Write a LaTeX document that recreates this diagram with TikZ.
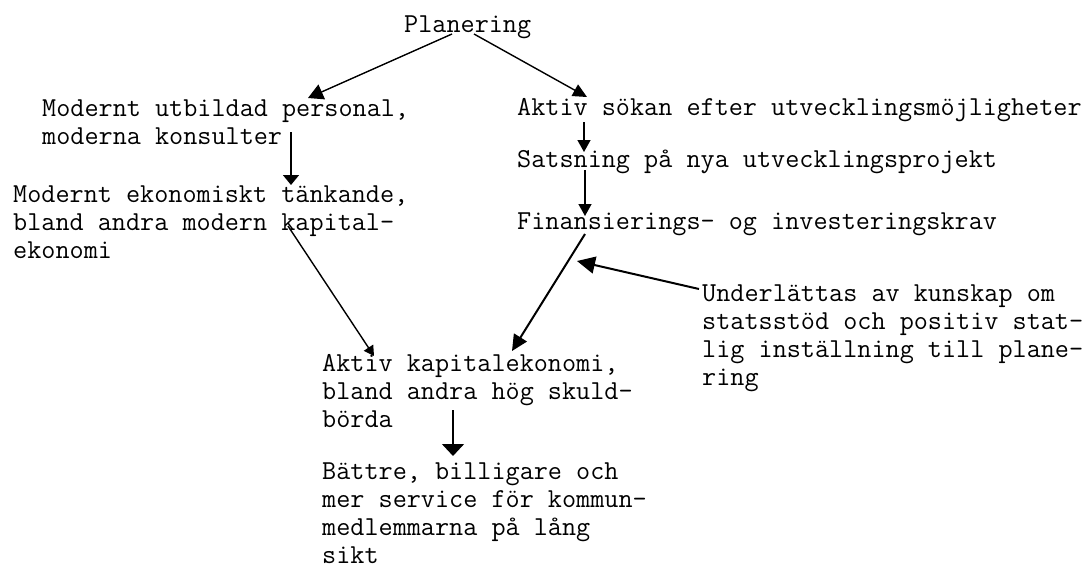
\documentclass[tikz,border=0pt]{standalone}
\usepackage{tikz}
\usetikzlibrary{arrows.meta, calc}

\begin{document}
\begin{tikzpicture}[x=1pt, y=-1pt,
    tw/.style={font=\ttfamily\fontsize{27.4pt}{28pt}\selectfont, align=left, anchor=base west, inner sep=0pt},
    link/.style={line width=1.4pt, -{Triangle[length=12pt, width=13pt]}},
    bold link/.style={line width=2pt, -{Triangle[length=16pt, width=15pt]}}]
    \useasboundingbox (0,0) rectangle (1087,568);
    % Text blocks (base west = baseline of the last line)
    \node[tw] (plan) at (404,32) {Planering};
    \node[tw] (pers) at (42,144) {Modernt utbildad personal,\\moderna konsulter};
    \node[tw] (okon) at (13,258) {Modernt ekonomiskt tänkande,\\bland andra modern kapital-\\ekonomi};
    \node[tw] (aktiv) at (517,115) {Aktiv sökan efter utvecklingsmöjligheter};
    \node[tw] (sats) at (517,167) {Satsning på nya utvecklingsprojekt};
    \node[tw] (fin) at (517,229) {Finansierings- og investeringskrav};
    \node[tw] (under) at (702,385) {Underlättas av kunskap om\\statsstöd och positiv stat-\\lig inställning till plane-\\ring};
    \node[tw] (kap) at (322,427) {Aktiv kapitalekonomi,\\bland andra hög skuld-\\börda};
    \node[tw] (batt) at (322,563) {Bättre, billigare och\\mer service för kommun-\\medlemmarna på lång\\sikt};
    \coordinate (infl) at ($(fin.base west)+(60,32)$);
    % Arrows
    \draw[link, -{Triangle[length=15pt, width=16pt]}] ($(plan.base west)+(48,2)$) -- ($(pers.base west)+(266,-46)$);
    \draw[link, -{Triangle[length=14pt, width=13pt]}] ($(plan.base west)+(70,2)$) -- ($(aktiv.base west)+(70,-18)$);
    \draw[link, -{Triangle[length=10pt, width=16pt]}] ($(pers.base west)+(249,-12)$) -- ($(okon.base west)+(278,-73)$);
    \draw[link] ($(aktiv.base west)+(67,7)$) -- ($(sats.base west)+(67,-15)$);
    \draw[link] ($(sats.base west)+(68,3)$) -- ($(fin.base west)+(68,-13)$);
    \draw[bold link] ($(fin.base west)+(68,5)$) -- ($(kap.base west)+(190,-76)$);
    \draw[link, -{Triangle[length=10pt, width=11pt]}] ($(okon.base west)+(275,-32)$) -- ($(kap.base west)+(52,-71)$);
    \draw[bold link, -{Triangle[length=18pt, width=17pt]}] ($(under.base west)+(-3,-96)$) -- (infl);
    \draw[link, -{Triangle[length=12pt, width=22pt]}] ($(kap.base west)+(131,-17)$) -- ($(batt.base west)+(131,-107)$);
\end{tikzpicture}
\end{document}
